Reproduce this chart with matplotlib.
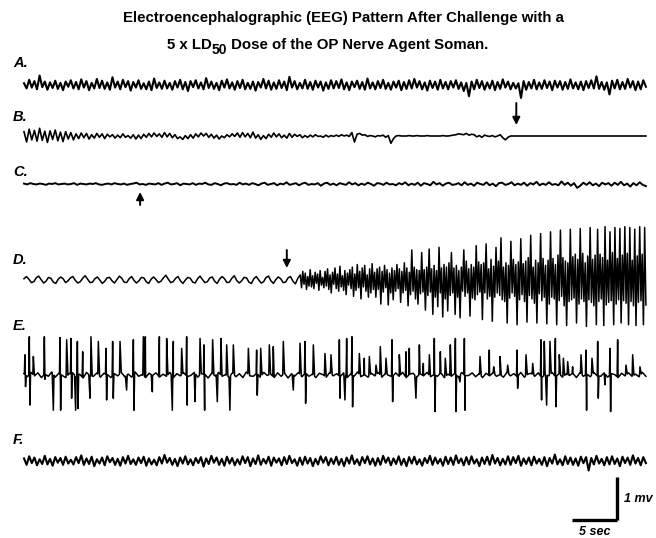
"""
EEG pattern after soman challenge - six stacked traces
"""
import numpy as np
import matplotlib.pyplot as plt

plt.rcParams['font.family'] = ['Liberation Sans', 'DejaVu Sans']

# ---- data (amplitudes in 0.01 mV) ----
DURATION = 69.1   # seconds shown per trace
D_ONSET = 30.7    # trace D: point where the dense seizure activity starts (s)

eeg_a = [4, -8, 12, -6, 9, -10, 22, -5, 8, -11, 6, -7, 10, -9, 5, -12, 8, -4, 11, -8,
         7, -10, 13, -6, 9, -12, 5, -8, 14, -7, 10, -9, 6, -11, 18, -6, 8, -10, 12, -5,
         9, -13, 7, -6, 11, -9, 4, -10, 8, -12, 15, -7, 6, -9, 10, -8, 5, -11, 9, -6,
         12, -10, 7, -14, 9, -5, 11, -8, 6, -10, 16, -7, 8, -9, 5, -12, 10, -6, 13, -8,
         6, -11, 9, -7, 12, -10, 5, -9, 8, -13, 7, -6, 14, -8, 10, -11, 6, -9, 11, -7,
         8, -12, 19, -6, 9, -10, 5, -8, 12, -9, 7, -11, 10, -6, 8, -13, 6, -9, 11, -8,
         9, -7, 13, -10, 6, -12, 8, -5, 10, -9, 7, -11, 15, -8, 6, -10, 9, -7, 12, -9,
         5, -11, 8, -6, 10, -12, 7, -9, 11, -8, 14, -6, 9, -10, 6, -13, 10, -7, 8, -11,
         12, -8, 7, -10, 9, -6, 11, -9, 6, -14, 5, -26, 8, -10, 12, -7, 9, -11, 6, -8,
         10, -12, 7, -9, 13, -6, 8, -10, 5, -8, 4, -30, 9, -11, 7, -8, 12, -10, 6, -9,
         11, -7, 8, -12, 10, -6, 9, -11, 7, -9, 13, -8, 6, -10, 8, -12, 9, -7, 11, -8,
         20, -9, 7, -11, 6, -22, 10, -8, 12, -10, 7, -9, 14, -6, 9, -12, 8, -10, 11, -4]

eeg_b = [10, -14, 16, -9, 13, -12, 18, -10, 11, -15, 12, -8, 14, -11, 9, -13, 10, -7, 8, -9,
         5, -6, 7, -4, 6, -7, 3, -5, 6, -3, 5, -6, 4, -2, 3, -5, 2, -4, 5, -3,
         1, -5, 3, -7, 2, -6, 4, -3, 6, -2, 7, -1, 5, -3, 8, -2, 6, -4, 3, -6,
         -2, -8, 1, -6, 3, -5, 5, -2, 7, 0, 6, -3, 4, -5, 2, -7, 0, -4, 3, -2,
         5, -1, 7, -3, 8, -2, 6, -4, 9, -5, 3, -8, 1, -6, 4, -3, 7, -2, 5, -4,
         2, -5, 6, -3, 4, -1, 3, -4, 1, -3, 2, -2, 3, -1, 0, -3, 2, -2, 1, -1,
         2, -1, 3, 0, 2, -1, 8, -14, 4, 6, 2, 3, -1, 1, 0, -2, 1, 0, 2, -3,
         1, -17, -6, 0, 1, 0, 0, 0, 1, 0, 0, 1, 0, 0, 0, 1, 0, 0, 0, 0,
         0, 1, 0, 0, 1, 2, 3, 5, 4, 3, 6, 2, 4, 3, -2, 1, -3, 2, 0, -1,
         1, -2, 0, 3, -4, -9, -3, 0, 0, 0, 0, 0, 0, 0, 0, 0, 0, 0, 0, 0,
         0, 0, 0, 0, 0, 0, 0, 0, 0, 0, 0, 0, 0, 0, 0, 0, 0, 0, 0, 0,
         0, 0, 0, 0, 0, 0, 0, 0, 0, 0, 0, 0, 0, 0, 0, 0, 0, 0, 0, 0]

eeg_c = [1, -1, 2, 0, -1, 1, 0, -2, 1, 0, 2, -1, 0, 1, -1, 0, 2, -2, 1, 0,
         -1, 1, 0, 2, -1, -2, 0, 1, -1, 2, 0, -1, 1, -2, 0, 1, 3, -1, 0, -2,
         1, 0, -1, 2, -2, 1, 3, -1, 0, 2, -3, 1, 0, -1, 2, -2, 1, 0, 3, -1,
         -2, 2, 0, -3, 1, 2, -1, 0, -2, 3, -1, 1, -2, 2, 0, -3, 1, 3, -2, 0,
         2, -3, 1, -1, 4, -2, 0, 2, -3, 1, 3, -2, 0, -1, 2, -4, 1, 3, -2, 1,
         -3, 2, 0, -2, 4, -1, 2, -3, 1, -2, 3, 0, -4, 2, 1, -2, 3, -1, 0, -3,
         2, -1, 4, -3, 1, -2, 3, -4, 2, 0, -3, 5, -1, 2, -4, 1, 3, -2, -1, 2,
         -3, 4, -2, 1, -4, 3, 0, -2, 4, -3, 1, -5, 2, 3, -2, 0, 4, -3, 1, -2,
         3, -4, 2, -1, 5, -3, 1, -2, 4, -2, 0, -3, 6, -2, 3, -4, 2, -9, -4, 3,
         -2, 4, -3, 1, -5, 3, -1, 2, -4, 3, -2, 5, -3, 1, -6, 2, -3, 4, -2, -5]

# trace D before the onset of seizure activity
eeg_d_pre = [3, 8, 2, -6, -4, 5, 9, 1, -7, -3, 6, 4, -5, -8, 2, 7, 3, -6, -2, 5,
             8, -1, -7, -4, 4, 10, 2, -6, -5, 3, 7, 0, -8, -3, 5, 6, -2, -7, 1, 9,
             4, -5, -6, 3, 8, -1, -7, -2, 6, 5, -4, -8, 2, 7, 1, -6, -3, 5, 11, 2,
             -6, -4, 4, 8, -2, -8, 0, 6, 4, -5, -7, 3, 9, 1, -6, -4, 5, 7, -3, -8,
             2, 8, 3, -6, -5, 4, 10, -1, -7, -2, 6, 5, -5, -8, 3, 8, 0, -7, -4, 6,
             9, -2, -8, 1, 7, 3, -6, -5, 5, 8, -3, -9, 4]
# trace D after the onset (dense, growing)
eeg_d_post = [12, -18, 20, -10, 16, -22, 8, -14, 24, -16, 10, -20, 18, -8, 14, -24, 22, -12, 6, -18,
              20, -14, 26, -22, 12, -30, 18, -10, 28, -20, 14, -26, 32, -16, 10, -24, 22, -34, 16, -12,
              24, -20, 30, -38, 14, -24, 36, -18, 20, -44, 28, -16, 34, -26, 12, -40, 26, -30, 38, -22,
              18, -40, 26, -22, 30, -56, 20, -28, 34, -18, 24, -58, 16, -30, 28, -46, 22, -26, 36, -20,
              26, -52, 20, -30, 40, -24, 28, -60, 18, -34, 70, -26, 30, -44, 24, -56, 22, -32, 64, -28,
              24, -70, 30, -36, 72, -28, 26, -80, 34, -40, 22, -62, 76, -30, 28, -86, 36, -44, 30, -72,
              40, -36, 64, -30, 28, -80, 34, -40, 22, -88, 30, -26, 70, -38, 44, -30, 26, -84, 36, -42,
              30, -46, 80, -34, 42, -28, 36, -92, 40, -30, 84, -44, 26, -38, 48, -96, 32, -40, 76, -30,
              44, -36, 98, -46, 30, -50, 40, -100, 34, -42, 90, -30, 48, -38, 36, -104, 42, -46, 96, -34,
              38, -50, 44, -98, 52, -36, 104, -44, 30, -54, 46, -100, 40, -32, 108, -48, 50, -40, 34, -102,
              46, -56, 112, -40, 50, -44, 36, -104, 58, -48, 116, -38, 52, -60, 44, -106, 40, -50, 118, -46,
              54, -42, 60, -100, 48, -56, 120, -44, 62, -50, 40, -108, 56, -46, 122, -52, 48, -60, 58, -104,
              118, -50, 60, -44, 52, -106, 124, -58, 46, -52, 112, -48, 64, -104, 122, -56, 50, -46, 120, -100,
              58, -48, 124, -54, 62, -104, 122, -50, 46, -60, 118, -106, 56, -52, 124, -48, 60, -104, 122, -58]

# trace E: small baseline plus a list of sharp spikes
eeg_e_base = [3, -4, 6, -2, 5, -6, 2, -3, 7, -5, 4, -1, -6, 3, 5, -4, 2, -7, 6, -2,
              -3, 5, -5, 4, 1, -6, 3, -2, 6, -4, 2, -5, 7, -3, 1, -6, 4, -1, 5, -5,
              2, -3, 6, -6, 3, -2, 5, -4, -1, 6, -5, 3, 2, -7, 4, -2, 6, -3, 1, -5,
              5, -4, 3, -6, 7, -2, -3, 4, -5, 6, -1, 2, -6, 5, -3, 4, -7, 3, -2, 6,
              -4, 5, -3, 2, -6, 4, 1, -5, 6, -2, 3, -4, 5, -6, 2, -3, 7, -4, 1, -5,
              4, -2, 6, -5, 3, -1, -4, 5, -3, 6, -6, 2, 4, -5, 3, -2, 6, -4, 1, -3,
              5, -6, 2, -3, 4, -5, 6, -2, -1, 5, -4, 3, -6, 4, -2, 5, -3, 1, -5, 6,
              -2, 3, -4, 6, -5, 2, 4, -3, 5, -6, 1, -2, 6, -4, 3, -5, 2, -1, 4, -6,
              5, -3, 2, -4, 6, -2, -3, 5, -5, 3, 1, -6, 4, -2, 5, -3, 2, -4, 6, -3]
spike_t = [0.1, 0.59, 1.04, 2.26, 3.19, 4.0, 4.74, 5.22, 5.67, 5.93, 6.52, 7.26, 7.44,
           8.26, 9.11, 9.85, 10.67, 11.33, 12.15, 13.26, 13.48, 14.19, 15.04, 15.85,
           16.41, 16.59, 17.52, 18.07, 18.93, 19.56, 20.0, 20.96, 21.41, 21.89, 22.52,
           22.81, 23.26, 24.93, 25.85, 26.3, 27.26, 27.7, 28.81, 29.85, 30.67, 31.22,
           32.15, 33.44,
           34.11, 35.04, 35.59, 35.85, 36.44, 37.26, 37.81, 38.37, 39.11, 39.59, 40.22,
           40.89, 41.7, 42.44, 42.81, 43.48, 43.93, 44.37, 45.04, 45.59, 46.26, 46.81,
           47.37, 47.93, 48.37, 48.93, 50.67, 51.7, 52.19, 52.89, 53.74, 54.78, 55.78,
           56.52, 57.44, 57.81, 58.0, 58.44, 59.04, 59.48, 59.93, 60.41, 60.96, 61.89,
           62.44, 63.11, 63.74, 64.48, 65.11, 65.96, 66.89, 67.63, 68.44]
spike_up = [47, 89, 43, 89, 0, 87, 82, 85, 0, 78, 54, 0, 89,
            78, 62, 78, 78, 0, 82, 89, 89, 0, 89, 85,
            0, 78, 62, 89, 0, 85, 70, 82, 0, 85, 70,
            0, 70, 62, 58, 62, 70, 66, 78, 0, 74, 78,
            70, 50,
            47, 82, 0, 85, 89, 50, 39, 43, 23, 66, 39,
            82, 47, 54, 62, 0, 70, 27, 47, 85, 54, 39,
            70, 85, 0, 85, 43, 58, 19, 43, 23, 58, 47,
            27, 82, 78, 0, 78, 85, 47, 39, 31, 19, 47,
            58, 39, 78, 0, 62, 82, 23, 47, 19]
spike_dn = [27, 70, 0, 10, 82, 82, 0, 54, 82, 78, 0, 54, 0,
            0, 58, 54, 0, 35, 82, 0, 0, 39, 0, 0,
            82, 0, 0, 70, 62, 0, 82, 0, 62, 0, 0,
            82, 0, 0, 47, 0, 0, 0, 0, 35, 0, 66,
            0, 0,
            0, 54, 58, 0, 74, 0, 0, 0, 0, 0, 0,
            62, 0, 0, 0, 54, 0, 0, 0, 85, 0, 0,
            0, 85, 16, 82, 0, 0, 0, 0, 0, 31, 0,
            0, 58, 0, 70, 0, 74, 0, 0, 0, 0, 0,
            82, 0, 54, 23, 85, 0, 0, 0, 0]

eeg_f = [6, -9, 11, -5, 8, -10, 4, -7, 12, -8, 5, -11, 9, -4, 7, -9, 10, -6, 3, -8,
         9, -5, 13, -9, 6, -7, 10, -12, 4, -6, 8, -10, 11, -3, 7, -9, 5, -11, 9, -6,
         12, -7, 4, -9, 8, -5, 10, -11, 6, -8, 3, -10, 9, -6, 14, -4, 7, -9, 5, -12,
         8, -6, 11, -8, 4, -10, 7, -5, 9, -13, 6, -7, 12, -4, 8, -9, 5, -11, 10, -6,
         7, -10, 4, -8, 11, -5, 9, -12, 6, -7, 13, -9, 5, -6, 10, -11, 8, -4, 6, -10,
         9, -7, 12, -5, 4, -11, 8, -9, 10, -6, 7, -12, 5, -8, 11, -4, 9, -10, 6, -7,
         10, -9, 5, -12, 8, -6, 13, -7, 4, -10, 9, -5, 11, -8, 6, -11, 7, -9, 12, -4,
         8, -10, 6, -7, 11, -9, 5, -12, 9, -6, 10, -8, 4, -11, 7, -5, 12, -9, 8, -6,
         5, -11, 10, -7, 8, -9, 13, -5, 6, -10, 9, -8, 11, -6, 4, -12, 8, -7, 10, -9,
         14, -6, 7, -10, 5, -8, 11, -9, 9, -5, 12, -11, 6, -7, 8, -10, 10, -6, 5, -9,
         9, -12, 7, -6, 15, -8, 4, -10, 11, -7, 8, -9, 6, -11, 10, -5, 9, -22, 7, -8,
         12, -6, 5, -10, 9, -8, 11, -7, 6, -12, 10, -5, 8, -9, 13, -6, 7, -10, 9, -5]

trace_names = ['A.', 'B.', 'C.', 'D.', 'E.', 'F.']
arrow_t = {'B.': 54.7, 'C.': 12.9, 'D.': 29.2}  # time of the event markers (s)

# ---- layout (pixel positions converted via scale bar: 9 px / s, 43 px / mV) ----
PX_SEC = 9.0
PX_MV = 43.0
W, H = 656, 538
base_px = {'A.': 85, 'B.': 136, 'C.': 184, 'D.': 280, 'E.': 375, 'F.': 461}
label_px = {'A.': 63, 'B.': 117, 'C.': 172, 'D.': 260, 'E.': 326, 'F.': 440}
trace_lw = {'A.': 1.5, 'B.': 1.2, 'C.': 1.4, 'D.': 1.1, 'E.': 1.1, 'F.': 1.5}


def px_y(p):
    return -p / PX_MV


fig = plt.figure(figsize=(W / 100, H / 100), dpi=100)
ax = fig.add_axes([0, 0, 1, 1])
ax.set_xlim(-24 / PX_SEC, (W - 24) / PX_SEC)
ax.set_ylim(-H / PX_MV, 0)
ax.axis('off')

for name, vals in zip(['A.', 'B.', 'C.', 'F.'], [eeg_a, eeg_b, eeg_c, eeg_f]):
    v = np.array(vals) / 100.0
    t = np.linspace(0, DURATION, len(v))
    ax.plot(t, px_y(base_px[name]) + v, color='black', lw=trace_lw[name])

# trace D: slow part then dense part
t_pre = np.linspace(0, D_ONSET, len(eeg_d_pre), endpoint=False)
t_post = np.linspace(D_ONSET, DURATION, len(eeg_d_post))
ax.plot(np.concatenate([t_pre, t_post]),
        px_y(base_px['D.']) + np.array(eeg_d_pre + eeg_d_post) / 100.0,
        color='black', lw=trace_lw['D.'])

# trace E: baseline with spikes spliced in
tb = np.linspace(0, DURATION, len(eeg_e_base))
vb = np.array(eeg_e_base) / 100.0
pts_t, pts_v = list(tb), list(vb)
for ts, up, dn in zip(spike_t, spike_up, spike_dn):
    pts_t.append(ts - 0.06)
    pts_v.append(np.interp(ts - 0.06, tb, vb))
    if up:
        pts_t.append(ts)
        pts_v.append(up / 100.0)
    if dn:
        pts_t.append(ts + 0.07)
        pts_v.append(-dn / 100.0)
    pts_t.append(ts + 0.14)
    pts_v.append(np.interp(ts + 0.14, tb, vb))
order = np.argsort(pts_t, kind='stable')
ax.plot(np.array(pts_t)[order], px_y(base_px['E.']) + np.array(pts_v)[order],
        color='black', lw=trace_lw['E.'])

# trace labels
for name in trace_names:
    ax.text(-11 / PX_SEC, px_y(label_px[name]), name, fontsize=10.5,
            fontweight='bold', fontstyle='italic', ha='left', va='center')

# event arrows
arrow_px = {'B.': (103, 125), 'C.': (205, 192), 'D.': (250, 268)}
for name, t0 in arrow_t.items():
    tail, tip = arrow_px[name]
    ax.annotate('', xy=(t0, px_y(tip)), xytext=(t0, px_y(tail)),
                arrowprops=dict(arrowstyle='-|>', color='black', lw=1.4,
                                mutation_scale=11, shrinkA=0, shrinkB=0))

# scale bar: 5 sec x 1 mv
bar_t1 = (617 - 24) / PX_SEC
bar_y0 = px_y(520)
ax.plot([bar_t1 - 5, bar_t1], [bar_y0, bar_y0], color='black', lw=2.4,
        solid_capstyle='butt')
ax.plot([bar_t1, bar_t1], [bar_y0, bar_y0 + 1], color='black', lw=2.4,
        solid_capstyle='butt')
ax.text(bar_t1 + 0.8, bar_y0 + 0.5, '1 mv', fontsize=9, fontweight='bold',
        fontstyle='italic', ha='left', va='center')
ax.text(bar_t1 - 2.5, bar_y0 - 0.27, '5 sec', fontsize=9, fontweight='bold',
        fontstyle='italic', ha='center', va='center')

# title
fig.text(343 / W, 1 - 18 / H, 'Electroencephalographic (EEG) Pattern After Challenge with a',
         ha='center', va='center', fontsize=10.8, fontweight='bold')

# second title line with a lowered "50", assembled from pieces and centred
renderer = fig.canvas.get_renderer()
pieces = [('5 x LD', 10.8, 0), ('50', 10, -5), (' Dose of the OP Nerve Agent Soman.', 10.8, 0)]
y_line2 = 1 - 49 / H
texts = []
for s, size, dy in pieces:
    tx = fig.text(0, y_line2 + dy / H, s, ha='left', va='baseline',
                  fontsize=size, fontweight='bold')
    texts.append(tx)
widths = [tx.get_window_extent(renderer).width for tx in texts]
x = 328 - sum(widths) / 2
for tx, w in zip(texts, widths):
    tx.set_x(x / W)
    x += w

plt.savefig('out.png', dpi=100)
